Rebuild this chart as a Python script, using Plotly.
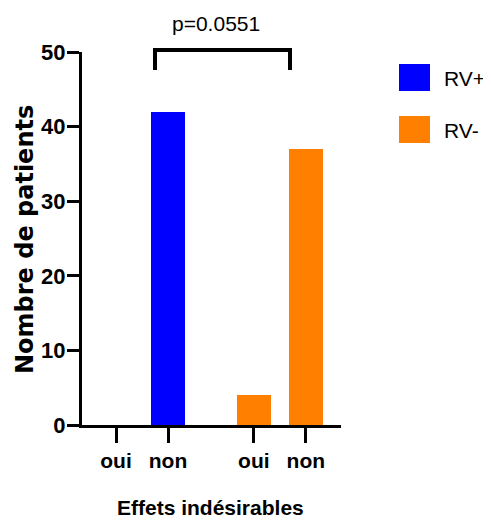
import plotly.graph_objects as go

# ---- data ----
categories = ["oui", "non"]
groups = ["RV+", "RV-"]
rv_plus = [0, 42]
rv_minus = [4, 37]
colors = ["#0000FF", "#FF8000"]
y_ticks = [0, 10, 20, 30, 40, 50]
p_label = "p=0.0551"
x_title = "Effets indésirables"
y_title = "Nombre de patients"

OFF = 8  # page body margin
W, H = 491 - OFF, 526 - OFF
L, R, T, B = 82 - OFF, 341 - OFF, 52 - OFF, 425 - OFF  # plot area in figure pixels
group_gap = 2.65

def px_x(px):  # px given in page (reference) coordinates
    return (px - OFF - L) / (R - L)

def px_y(py):
    return (B - (py - OFF)) / (B - T)

FONT = "Liberation Sans Narrow, Liberation Sans, Arial, sans-serif"

fig = go.Figure()
series = [rv_plus, rv_minus]
tickvals, ticktext = [], []
for gi, (name, vals) in enumerate(zip(groups, series)):
    xs = [gi * group_gap + ci for ci in range(len(categories))]
    tickvals += xs
    ticktext += categories
    fig.add_trace(go.Bar(x=xs, y=vals, name=name, width=0.65,
                         marker=dict(color=colors[gi], line=dict(width=0)),
                         showlegend=False))

unit = 52.0
x0_ref = 116.0
xr = [(82 - x0_ref) / unit, (341 - x0_ref) / unit]

fig.update_layout(
    width=W, height=H,
    margin=dict(l=L, r=W - R, t=T, b=H - B, pad=0),
    plot_bgcolor="white", paper_bgcolor="white",
    bargap=0,
    xaxis=dict(range=xr, tickvals=tickvals, ticktext=ticktext,
               showgrid=False, zeroline=False, showline=True, linecolor="black", linewidth=3,
               ticks="outside", ticklen=15, tickwidth=3, tickcolor="black",
               tickfont=dict(family=FONT, size=21, color="black", weight="bold")),
    yaxis=dict(range=[0, 50], tickvals=y_ticks,
               showgrid=False, zeroline=False, showline=True, linecolor="black", linewidth=3,
               ticks="outside", ticklen=12, tickwidth=3, tickcolor="black",
               ticklabelstandoff=-3,
               tickfont=dict(family=FONT, size=22, color="black", weight="bold")),
)

shapes = []
# significance bracket
bx0, bx1, btop, bend = px_x(155), px_x(290), px_y(50), px_y(70)
shapes.append(dict(type="path", xref="paper", yref="paper",
                   path=f"M {bx0},{bend} L {bx0},{btop} L {bx1},{btop} L {bx1},{bend}",
                   line=dict(color="black", width=4)))
# legend swatches
for i, c in enumerate(colors):
    top = 64 + i * 52
    shapes.append(dict(type="rect", xref="paper", yref="paper",
                       x0=px_x(399), x1=px_x(430), y0=px_y(top + 27), y1=px_y(top),
                       fillcolor=c, line=dict(width=0)))
fig.update_layout(shapes=shapes)

ann = []
ann.append(dict(text=p_label, xref="paper", yref="paper", x=px_x(216), y=px_y(24),
                xanchor="center", yanchor="middle", showarrow=False,
                font=dict(family=FONT, size=21, color="black")))
for i, g in enumerate(groups):
    ann.append(dict(text=g, xref="paper", yref="paper", x=px_x(442), y=px_y(78 + i * 52),
                    xanchor="left", yanchor="middle", showarrow=False,
                    font=dict(family=FONT, size=21, color="black")))
ann.append(dict(text=x_title, xref="paper", yref="paper", x=px_x(210), y=px_y(507),
                xanchor="center", yanchor="middle", showarrow=False,
                font=dict(family=FONT, size=21, color="black", weight="bold")))
ann.append(dict(text=y_title, xref="paper", yref="paper", x=px_x(25), y=px_y(240),
                xanchor="center", yanchor="middle", showarrow=False, textangle=-90,
                font=dict(family="DejaVu Sans, sans-serif", size=24, color="black", weight="bold")))
fig.update_layout(annotations=ann)

fig.write_html("out.html")
